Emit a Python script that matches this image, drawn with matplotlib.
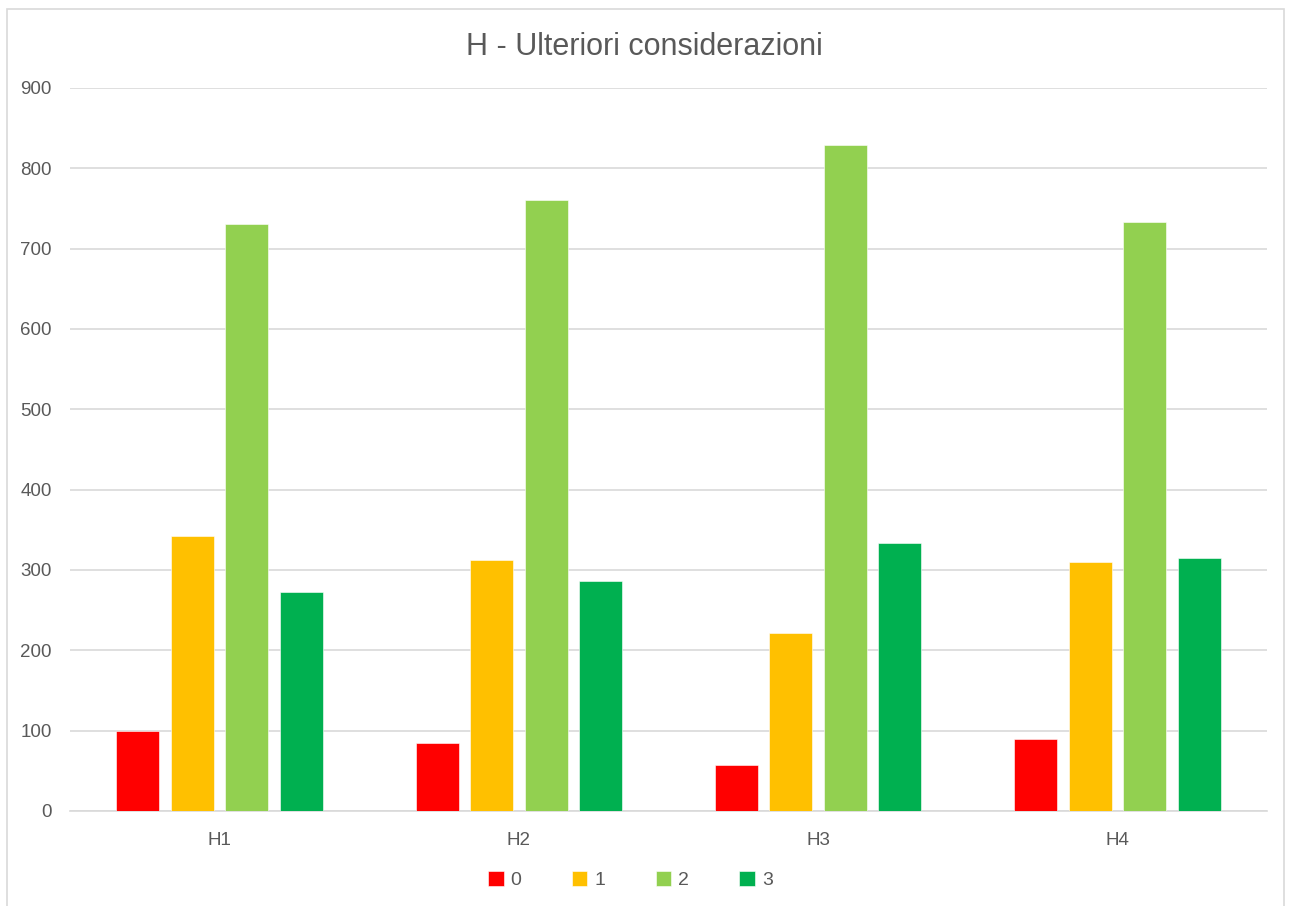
import numpy as np
import matplotlib.pyplot as plt
from matplotlib.patches import Rectangle

categories = ['H1', 'H2', 'H3', 'H4']
series_names = ['0', '1', '2', '3']
values_0 = [100, 84, 57, 89]
values_1 = [342, 312, 222, 310]
values_2 = [730, 760, 829, 733]
values_3 = [272, 286, 334, 315]
colors = ['#ff0000', '#ffc000', '#92d050', '#00b050']

plt.rcParams['font.family'] = ['Liberation Sans', 'DejaVu Sans']

fig = plt.figure(figsize=(12.89, 9.06), dpi=100)
ax = fig.add_axes([0.0543, 0.105, 0.9287, 0.798])

# chart border
fig.patches.append(Rectangle((0.0054, -0.01), 0.9907, 1.0, transform=fig.transFigure,
                             fill=False, edgecolor='#d9d9d9', linewidth=1.2))

x = np.arange(len(categories))
width = 0.144
step = 0.182
all_values = [values_0, values_1, values_2, values_3]
for i, vals in enumerate(all_values):
    ax.bar(x + (i - 1.5) * step, vals, width, color=colors[i], label=series_names[i],
           edgecolor='white', linewidth=0.4, zorder=3)

ax.set_xlim(-0.5, 3.5)
ax.set_ylim(0, 900)
ax.set_yticks(np.arange(0, 901, 100))
ax.set_xticks(x)
ax.set_xticklabels(categories)
ax.grid(axis='y', color='#d9d9d9', linewidth=1.2, zorder=0)
ax.tick_params(length=0, labelsize=13.5, colors='#595959')
ax.tick_params(axis='y', pad=13)
ax.tick_params(axis='x', pad=15)
for s in ['top', 'right', 'left']:
    ax.spines[s].set_visible(False)
ax.spines['bottom'].set_color('#d9d9d9')
ax.spines['bottom'].set_linewidth(1.2)

fig.text(0.5, 0.948, 'H - Ulteriori considerazioni', ha='center', va='center',
         fontsize=22, color='#595959')

fig.legend(loc='center', bbox_to_anchor=(0.489, 0.029), ncol=4, frameon=False,
           fontsize=14, handlelength=0.8, handleheight=0.8, handletextpad=0.35,
           columnspacing=2.6, labelcolor='#595959')

fig.savefig('out.png', dpi=100)
